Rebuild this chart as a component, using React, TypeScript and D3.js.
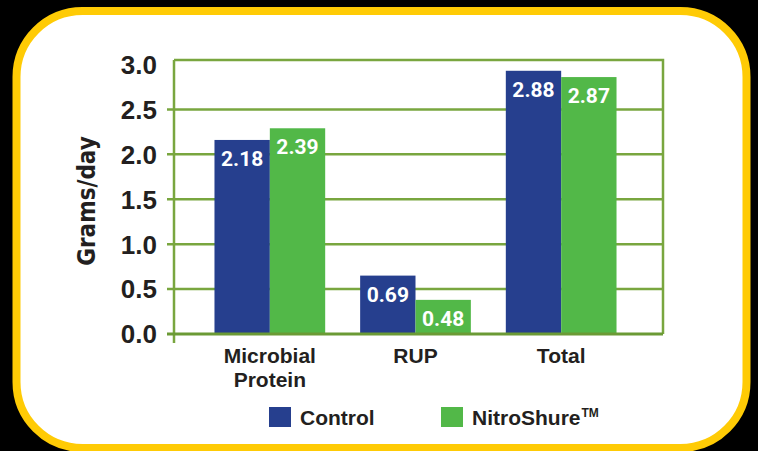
import React, { useRef, useEffect } from 'react';
import * as d3 from 'd3';

// values
const categories = [['Microbial', 'Protein'], ['RUP'], ['Total']];
const series = ['Control', 'NitroShure'];
const controlValues = [2.16, 0.65, 2.93];
const nitroValues = [2.29, 0.38, 2.86];
const controlLabels = ['2.18', '0.69', '2.88'];
const nitroLabels = ['2.39', '0.48', '2.87'];
const yTicks = [0, 0.5, 1.0, 1.5, 2.0, 2.5, 3.0];
const gridTicks = [0.5, 1.0, 1.5, 2.0, 2.5];

const colors = ['#263f8e', '#52b848'];
const gridColor = '#79a63f';
const textColor = '#231f20';

const App = () => {
    const chartRef = useRef<HTMLDivElement>(null);

    useEffect(() => {
        d3.select(chartRef.current).select('svg').remove();

        const W = 758, H = 451;
        const svg = d3.select(chartRef.current)
            .append('svg')
            .attr('width', W)
            .attr('height', H)
            .style('display', 'block')
            .style('background', '#000');

        // yellow rounded frame
        svg.append('rect')
            .attr('x', 16.5).attr('y', 11)
            .attr('width', 730).attr('height', 437)
            .attr('rx', 66).attr('ry', 66)
            .attr('fill', '#fff')
            .attr('stroke', '#ffcb05')
            .attr('stroke-width', 8);

        const left = 174, right = 663, top = 60, bottom = 334;

        const y = d3.scaleLinear().domain([0, 3.05]).range([bottom, top]);
        const keys = categories.map(c => c.join(' '));
        const x = d3.scaleBand()
            .domain(keys)
            .range([197, 634])
            .paddingInner(0.24)
            .paddingOuter(0.12);
        const xs = d3.scaleBand()
            .domain(series)
            .range([0, x.bandwidth()]);

        const font = '"Liberation Sans", Arial, sans-serif';

        // grid lines
        svg.append('g')
            .selectAll('line')
            .data(gridTicks)
            .enter()
            .append('line')
            .attr('x1', left - 7)
            .attr('x2', right)
            .attr('y1', d => y(d))
            .attr('y2', d => y(d))
            .attr('stroke', gridColor)
            .attr('stroke-width', 2.5);

        // frame top + right
        svg.append('path')
            .attr('d', `M${left},${y(3.05)}H${right}V${y(0)}`)
            .attr('fill', 'none')
            .attr('stroke', gridColor)
            .attr('stroke-width', 2.5);

        // bars
        const rows = keys.map((k, i) => ({
            key: k,
            bars: [
                { s: series[0], v: controlValues[i], label: controlLabels[i] },
                { s: series[1], v: nitroValues[i], label: nitroLabels[i] }
            ]
        }));

        const groups = svg.append('g')
            .selectAll('g')
            .data(rows)
            .enter()
            .append('g')
            .attr('transform', d => `translate(${x(d.key)},0)`);

        groups.selectAll('rect')
            .data(d => d.bars)
            .enter()
            .append('rect')
            .attr('x', d => xs(d.s)!)
            .attr('y', d => y(d.v))
            .attr('width', xs.bandwidth())
            .attr('height', d => y(0) - y(d.v))
            .attr('fill', (d, i) => colors[i]);

        groups.selectAll('text')
            .data(d => d.bars)
            .enter()
            .append('text')
            .attr('x', d => xs(d.s)! + xs.bandwidth() / 2)
            .attr('y', d => y(d.v) + 26)
            .attr('text-anchor', 'middle')
            .attr('fill', '#fff')
            .style('font-family', 'Roboto, sans-serif')
            .style('font-weight', 'bold')
            .style('font-size', '21px')
            .text(d => d.label);

        // y axis line, base line
        svg.append('line')
            .attr('x1', left).attr('x2', left)
            .attr('y1', top).attr('y2', y(0) + 9)
            .attr('stroke', gridColor)
            .attr('stroke-width', 2.5);
        svg.append('line')
            .attr('x1', left - 7).attr('x2', right)
            .attr('y1', y(0)).attr('y2', y(0))
            .attr('stroke', '#6b9a35')
            .attr('stroke-width', 3);

        // y tick labels
        svg.append('g')
            .selectAll('text')
            .data(yTicks)
            .enter()
            .append('text')
            .attr('x', 157)
            .attr('y', d => y(d))
            .attr('dy', '0.36em')
            .attr('text-anchor', 'end')
            .attr('fill', textColor)
            .style('font-family', font)
            .style('font-weight', 'bold')
            .style('font-size', '26px')
            .text(d => d.toFixed(1));

        // y title
        svg.append('text')
            .attr('transform', `translate(95,201) rotate(-90)`)
            .attr('text-anchor', 'middle')
            .attr('fill', textColor)
            .style('font-family', '"Liberation Sans Narrow", "DejaVu Sans Condensed", sans-serif')
            .style('font-weight', 'bold')
            .style('font-size', '24px')
            .text('Grams/day');

        // category labels
        const cat = svg.append('g')
            .selectAll('text')
            .data(categories)
            .enter()
            .append('text')
            .attr('x', (d, i) => x(keys[i])! + x.bandwidth() / 2)
            .attr('y', 363)
            .attr('text-anchor', 'middle')
            .attr('fill', textColor)
            .style('font-family', font)
            .style('font-weight', 'bold')
            .style('font-size', '21px');
        cat.selectAll('tspan')
            .data(d => d)
            .enter()
            .append('tspan')
            .attr('x', function () { return (this as any).parentNode.getAttribute('x'); })
            .attr('dy', (d, i) => (i === 0 ? 0 : 24))
            .text(d => d);

        // legend
        const legendX = [269, 441];
        const lg = svg.append('g')
            .selectAll('g')
            .data(series)
            .enter()
            .append('g')
            .attr('transform', (d, i) => `translate(${legendX[i]},407)`);
        lg.append('rect')
            .attr('width', 22).attr('height', 20)
            .attr('fill', (d, i) => colors[i]);
        const lt = lg.append('text')
            .attr('x', 31)
            .attr('y', 18)
            .attr('fill', textColor)
            .style('font-family', font)
            .style('font-weight', 'bold')
            .style('font-size', '21px')
            .text(d => d);
        lt.filter((d, i) => i === 1)
            .append('tspan')
            .attr('dy', -8)
            .attr('dx', 1)
            .style('font-size', '12px')
            .text('TM');
    }, []);

    return <div ref={chartRef} style={{ position: 'fixed', left: 0, top: 0 }} />;
};

export default App;
